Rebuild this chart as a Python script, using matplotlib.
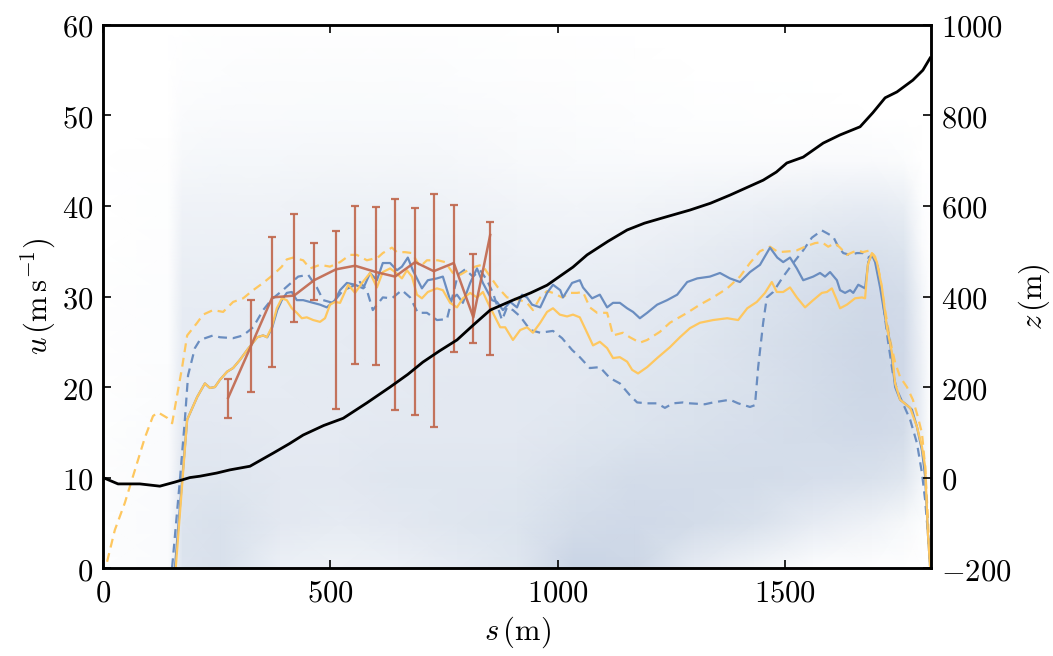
import matplotlib
matplotlib.use("Agg")
import matplotlib.pyplot as plt
import numpy as np
from matplotlib.colors import LinearSegmentedColormap
from matplotlib.ticker import FuncFormatter, MultipleLocator

plt.rcParams['mathtext.fontset'] = 'cm'
plt.rcParams['font.family'] = 'DejaVu Serif'
plt.rcParams['font.size'] = 22

# elevation profile z(s), right axis
s_elev = [0, 33, 81, 125, 158, 191, 213, 250, 279, 323, 374, 410, 440, 485, 528, 580, 631,
          670, 703, 740, 778, 815, 851, 901, 940, 976, 1033, 1064, 1110, 1152, 1190, 1231,
          1290, 1335, 1378, 1451, 1480, 1503, 1539, 1583, 1620, 1664, 1692, 1719, 1745,
          1780, 1802, 1818]
z_elev = [0, -14, -14, -19, -10, 0, 3, 10, 17, 25, 54, 75, 94, 115, 131, 165, 200,
          228, 255, 280, 304, 338, 370, 392, 408, 425, 465, 492, 522, 547, 562, 574,
          591, 606, 624, 657, 675, 695, 708, 739, 757, 775, 806, 839, 852,
          878, 900, 927]

# speed, solid blue
s_blue = [158, 185, 207, 224, 235, 246, 257, 273, 286, 301,
          317, 339, 352, 361, 372, 383, 393, 404, 415, 426,
          440, 462, 477, 492, 510, 521, 536, 554, 572, 587,
          602, 615, 631, 646, 657, 670, 681, 701, 714, 734,
          747, 763, 778, 791, 807, 822, 835, 855, 866, 879,
          895, 910, 921, 932, 943, 961, 976, 989, 1005, 1011,
          1031, 1048, 1055, 1075, 1092, 1108, 1121, 1136, 1152, 1165,
          1180, 1196, 1218, 1240, 1262, 1284, 1306, 1334, 1356, 1378,
          1400, 1422, 1444, 1466, 1482, 1495, 1510, 1525, 1539, 1561,
          1576, 1587, 1598, 1613, 1620, 1631, 1642, 1649, 1660, 1675,
          1682, 1690, 1697, 1708, 1719, 1730, 1741, 1752, 1767, 1778,
          1789, 1800, 1807, 1813, 1818]
u_blue = [0, 16.4, 18.9, 20.4, 19.9, 20.0, 20.8, 21.7, 22.1, 23.0,
          24.1, 25.5, 25.7, 25.5, 26.6, 28.5, 29.6, 30.4, 30.5, 29.6,
          29.6, 29.3, 29.1, 28.8, 29.6, 30.7, 31.5, 31.3, 30.9, 32.6,
          31.8, 33.7, 33.7, 32.9, 33.3, 34.3, 32.9, 30.9, 31.8, 32.0,
          32.2, 29.6, 30.2, 29.3, 31.5, 33.1, 31.5, 29.6, 29.4, 28.5,
          29.4, 28.8, 30.2, 29.9, 29.1, 28.8, 30.4, 31.3, 30.7, 29.9,
          31.5, 31.8, 31.0, 29.8, 30.2, 28.8, 29.3, 29.3, 28.7, 28.3,
          27.6, 28.2, 29.1, 29.6, 30.2, 31.6, 32.0, 32.2, 32.6, 32.0,
          31.6, 32.7, 33.5, 35.4, 34.3, 33.8, 34.3, 33.1, 31.8, 32.2,
          32.6, 32.2, 32.7, 31.8, 30.7, 30.4, 30.7, 30.4, 31.3, 30.9,
          33.8, 34.6, 33.8, 31.0, 27.7, 24.9, 20.0, 18.6, 18.0, 17.5,
          15.6, 13.0, 10.1, 3.9, 0.1]

# speed, solid yellow
s_yellow = [160, 185, 207, 224, 235, 246, 257, 273, 286, 301,
            317, 339, 352, 360, 371, 382, 393, 404, 415, 426,
            437, 448, 462, 477, 488, 499, 510, 521, 539, 554,
            571, 587, 602, 615, 631, 642, 657, 668, 679, 690,
            701, 714, 734, 747, 763, 778, 791, 807, 822, 835,
            846, 862, 873, 884, 901, 917, 932, 945, 961, 976,
            989, 1004, 1020, 1033, 1048, 1064, 1077, 1092, 1108, 1121,
            1136, 1152, 1163, 1176, 1196, 1218, 1246, 1268, 1290, 1312,
            1341, 1372, 1396, 1416, 1437, 1455, 1470, 1481, 1495, 1510,
            1525, 1543, 1561, 1580, 1591, 1602, 1613, 1620, 1635, 1653,
            1668, 1675, 1681, 1690, 1701, 1712, 1723, 1734, 1741, 1752,
            1774, 1789, 1800, 1807, 1813, 1818]
u_yellow = [0.1, 16.4, 18.9, 20.4, 19.9, 20.0, 20.8, 21.7, 22.1, 23.0,
            24.1, 25.5, 25.7, 25.5, 26.6, 28.7, 29.8, 29.6, 28.7, 28.2,
            27.6, 27.7, 27.4, 27.2, 27.6, 29.1, 29.4, 29.3, 31.3, 30.4,
            31.6, 32.6, 31.0, 32.7, 33.1, 32.7, 32.0, 32.9, 32.2, 30.2,
            29.8, 30.5, 30.9, 30.7, 29.3, 28.8, 29.8, 30.4, 29.9, 30.5,
            29.3, 27.7, 26.6, 26.6, 25.2, 26.3, 26.6, 26.0, 27.1, 28.3,
            28.7, 28.0, 27.8, 28.0, 27.7, 26.0, 24.6, 25.0, 24.3, 23.2,
            23.3, 22.8, 21.9, 21.5, 22.2, 23.2, 24.4, 25.5, 26.5, 27.1,
            27.4, 27.6, 27.4, 28.7, 29.4, 30.4, 31.6, 30.5, 30.5, 31.0,
            29.9, 28.8, 29.6, 30.4, 30.5, 30.9, 29.6, 28.7, 29.1, 29.8,
            29.9, 29.8, 33.5, 34.8, 33.8, 31.0, 26.6, 23.8, 20.4, 18.6,
            17.7, 15.6, 13.4, 11.2, 3.9, 0.1]

# speed, dashed blue
s_blue_d = [152, 169, 180, 187, 202, 213, 242, 257, 286, 308,
            330, 352, 371, 393, 411, 429, 451, 470, 484, 505,
            528, 543, 565, 580, 593, 615, 635, 657, 675, 692,
            712, 734, 756, 780, 796, 813, 829, 844, 857, 877,
            888, 901, 917, 939, 961, 989, 1009, 1031, 1048, 1070,
            1092, 1114, 1136, 1158, 1174, 1196, 1218, 1235, 1253, 1275,
            1290, 1323, 1341, 1378, 1396, 1422, 1433, 1440, 1451, 1459,
            1473, 1495, 1517, 1539, 1558, 1580, 1591, 1605, 1616, 1627,
            1642, 1657, 1670, 1681, 1692, 1703, 1714, 1725, 1736, 1745,
            1758, 1774, 1789, 1800, 1807, 1813, 1818]
u_blue_d = [0.1, 9.7, 16.4, 21.3, 24.3, 25.2, 25.7, 25.5, 25.4, 25.7,
            26.6, 28.5, 29.7, 30.6, 31.4, 32.2, 32.4, 31.0, 29.6, 29.3,
            30.7, 31.0, 31.6, 30.7, 28.5, 29.9, 29.8, 30.7, 29.9, 28.2,
            28.2, 27.4, 27.5, 32.4, 33.0, 32.2, 32.9, 31.8, 30.4, 27.4,
            28.8, 28.5, 27.8, 26.3, 26.0, 26.2, 25.4, 24.1, 23.3, 22.1,
            22.2, 21.0, 20.4, 19.1, 18.3, 18.2, 18.2, 17.7, 18.2, 18.3,
            18.2, 18.1, 18.3, 18.6, 18.2, 17.8, 18.0, 22.2, 27.1, 29.9,
            30.5, 32.2, 33.7, 35.1, 36.5, 37.3, 37.0, 36.6, 35.5, 34.8,
            34.6, 34.8, 34.8, 34.3, 34.6, 33.3, 29.6, 25.2, 21.5, 19.7,
            18.2, 16.4, 13.8, 10.5, 7.5, 3.9, 0.1]

# speed, dashed yellow
s_yellow_d = [9, 26, 48, 70, 92, 110, 121, 141, 152, 163,
              174, 185, 207, 220, 242, 264, 286, 308, 330, 352,
              374, 393, 404, 418, 440, 455, 477, 499, 521, 543,
              558, 580, 604, 615, 635, 646, 664, 679, 697, 712,
              736, 752, 769, 785, 802, 818, 833, 851, 868, 888,
              901, 917, 932, 945, 961, 976, 989, 1009, 1026, 1042,
              1055, 1070, 1086, 1108, 1114, 1121, 1143, 1158, 1180, 1196,
              1224, 1246, 1284, 1312, 1341, 1372, 1400, 1422, 1444, 1466,
              1484, 1510, 1525, 1543, 1565, 1580, 1594, 1609, 1620, 1635,
              1648, 1659, 1670, 1686, 1697, 1708, 1719, 1730, 1741, 1752,
              1767, 1780, 1791, 1800, 1807, 1813, 1818]
u_yellow_d = [0.7, 4.2, 7.2, 10.8, 14.4, 16.8, 17.2, 16.6, 16.0, 19.1,
              22.2, 25.7, 27.1, 28.0, 28.5, 28.3, 29.4, 29.8, 30.7, 31.5,
              32.4, 33.3, 34.1, 34.3, 34.0, 33.1, 33.5, 33.3, 33.8, 34.6,
              34.6, 34.0, 34.3, 34.8, 35.4, 34.9, 34.9, 34.8, 33.3, 34.0,
              34.0, 33.8, 32.6, 32.4, 32.9, 33.3, 33.5, 32.2, 31.0, 29.9,
              29.8, 29.6, 29.3, 28.5, 29.9, 30.6, 30.4, 29.9, 30.4, 30.4,
              30.5, 28.8, 28.2, 28.2, 27.1, 25.7, 26.0, 25.5, 24.9, 25.2,
              26.1, 27.1, 28.2, 29.1, 29.9, 30.9, 32.2, 33.7, 35.0, 35.5,
              34.9, 35.0, 35.1, 35.5, 35.9, 36.0, 35.5, 35.9, 35.4, 34.6,
              34.9, 35.1, 34.9, 35.1, 34.4, 32.2, 28.5, 25.2, 22.7, 21.1,
              20.0, 18.6, 16.7, 14.9, 11.2, 5.6, 0.1]

# measured speed with ranges
s_meas = [275, 325, 372, 420, 464, 512, 554, 600, 642, 686, 727, 771, 814, 851]
u_meas = [18.8, 24.5, 29.9, 30.1, 31.8, 33.0, 33.4, 32.7, 32.2, 33.8, 32.8, 33.7, 27.7, 36.8]
u_meas_lo = [16.6, 19.4, 22.2, 27.2, 29.6, 17.6, 22.5, 22.4, 17.5, 16.9, 15.6, 23.9, 24.9, 23.5]
u_meas_hi = [20.9, 29.6, 36.6, 39.1, 35.9, 37.2, 40.0, 39.9, 40.8, 39.8, 41.3, 40.1, 34.7, 38.2]

# background density on a grid of nodes (rows: u = 0..60 step 5)
dens_s = [0, 145, 175, 260, 390, 520, 650, 780, 910, 1040, 1170, 1300, 1430, 1560, 1690, 1760, 1800, 1820]
dens_u = [0, 5, 10, 15, 20, 25, 30, 35, 40, 45, 50, 55, 60]
density = [
    [0.05, 0.08, 0.55, 0.60, 0.30, 0.25, 0.30, 0.40, 0.50, 0.85, 0.80, 0.40, 0.20, 0.05, 0.02, 0.02, 0.00, 0.00],
    [0.05, 0.08, 0.55, 0.60, 0.45, 0.40, 0.45, 0.50, 0.55, 0.70, 0.75, 0.70, 0.60, 0.40, 0.25, 0.15, 0.05, 0.00],
    [0.04, 0.08, 0.50, 0.50, 0.45, 0.45, 0.50, 0.50, 0.50, 0.60, 0.70, 0.70, 0.70, 0.65, 0.60, 0.50, 0.20, 0.00],
    [0.03, 0.08, 0.45, 0.45, 0.42, 0.42, 0.45, 0.45, 0.45, 0.50, 0.55, 0.60, 0.65, 0.70, 0.75, 0.70, 0.30, 0.00],
    [0.02, 0.06, 0.42, 0.40, 0.40, 0.42, 0.42, 0.45, 0.45, 0.45, 0.50, 0.55, 0.60, 0.70, 0.80, 0.75, 0.30, 0.00],
    [0.02, 0.05, 0.40, 0.40, 0.40, 0.40, 0.42, 0.42, 0.42, 0.45, 0.45, 0.50, 0.60, 0.70, 0.80, 0.75, 0.25, 0.00],
    [0.02, 0.05, 0.38, 0.38, 0.38, 0.38, 0.40, 0.40, 0.38, 0.40, 0.42, 0.45, 0.55, 0.65, 0.75, 0.70, 0.20, 0.00],
    [0.01, 0.04, 0.32, 0.32, 0.32, 0.32, 0.34, 0.34, 0.30, 0.30, 0.32, 0.38, 0.45, 0.55, 0.60, 0.55, 0.10, 0.00],
    [0.01, 0.03, 0.25, 0.25, 0.25, 0.28, 0.28, 0.26, 0.22, 0.20, 0.22, 0.25, 0.30, 0.35, 0.40, 0.35, 0.05, 0.00],
    [0.00, 0.02, 0.15, 0.17, 0.17, 0.18, 0.18, 0.16, 0.13, 0.11, 0.10, 0.10, 0.10, 0.10, 0.10, 0.06, 0.01, 0.00],
    [0.00, 0.01, 0.08, 0.10, 0.10, 0.11, 0.11, 0.10, 0.08, 0.06, 0.05, 0.03, 0.02, 0.02, 0.01, 0.00, 0.00, 0.00],
    [0.00, 0.00, 0.04, 0.05, 0.06, 0.06, 0.06, 0.05, 0.04, 0.03, 0.02, 0.01, 0.00, 0.00, 0.00, 0.00, 0.00, 0.00],
    [0.00, 0.00, 0.01, 0.02, 0.02, 0.02, 0.02, 0.02, 0.01, 0.01, 0.00, 0.00, 0.00, 0.00, 0.00, 0.00, 0.00, 0.00],
]

blue = '#6a8dc0'
yellow = '#fec75f'
red = '#c1694f'

fig = plt.figure(figsize=(10.53, 6.56), dpi=100)
ax1 = fig.add_axes([0.0978, 0.134, 0.7864, 0.828])

cmap = LinearSegmentedColormap.from_list('bg', ['#ffffff', '#c0cde0'])
ax1.pcolormesh(dens_s, dens_u, np.array(density), cmap=cmap, vmin=0, vmax=1,
               shading='gouraud', zorder=0)

lw = 1.6
dash = (4, 2.6)
ax1.plot(s_blue_d, u_blue_d, color=blue, lw=lw, dashes=dash)
ax1.plot(s_yellow_d, u_yellow_d, color=yellow, lw=lw, dashes=dash)
ax1.plot(s_blue, u_blue, color=blue, lw=lw)
ax1.plot(s_yellow, u_yellow, color=yellow, lw=lw)

u_meas = np.array(u_meas)
yerr = [u_meas - np.array(u_meas_lo), np.array(u_meas_hi) - u_meas]
ax1.errorbar(s_meas, u_meas, yerr=yerr, color=red, lw=1.8, elinewidth=1.6,
             ecolor=red, capsize=3, capthick=1.6, alpha=0.92)

ax1.set_xlim(0, 1820)
ax1.set_ylim(0, 60)
ax1.xaxis.set_major_locator(MultipleLocator(500))
ax1.yaxis.set_major_locator(MultipleLocator(10))

ax2 = ax1.twinx()
ax2.plot(s_elev, z_elev, color='k', lw=2.0)
ax2.set_ylim(-200, 1000)
ax2.yaxis.set_major_locator(MultipleLocator(200))

fmt = FuncFormatter(lambda v, p: r'$%g$' % v)
for a in (ax1, ax2):
    a.xaxis.set_major_formatter(fmt)
    a.yaxis.set_major_formatter(fmt)
    for sp in a.spines.values():
        sp.set_linewidth(1.8)
ax1.tick_params(direction='in', length=6, width=1.2, pad=7, top=True, right=False)
ax2.tick_params(direction='in', length=6, width=1.2, pad=7)

ax1.set_xlabel(r'$s\,(\mathrm{m})$', labelpad=4)
ax1.set_ylabel(r'$u\,(\mathrm{m\,s^{-1}})$', labelpad=3)
ax2.set_ylabel(r'$z\,(\mathrm{m})$', labelpad=4)

fig.savefig('out.png', dpi=100)
